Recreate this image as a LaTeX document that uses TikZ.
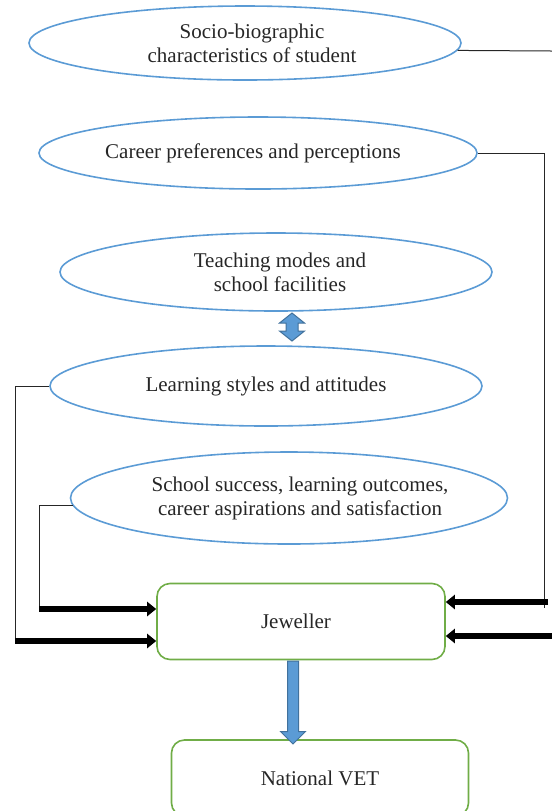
\documentclass[tikz,border=0pt]{standalone}
\usepackage{fontspec}
\setmainfont{Liberation Serif}
\usetikzlibrary{shapes.geometric,arrows.meta}
\definecolor{ovalblue}{HTML}{5B9BD5}
\definecolor{arrowedge}{HTML}{41719C}
\definecolor{boxgreen}{HTML}{70AD47}

\begin{document}
\begin{tikzpicture}[node distance=57pt]
    \tikzstyle{factor} = [ellipse, draw=ovalblue, line width=0.8pt, inner sep=0pt, align=center,
                          text=black!85, font=\fontsize{10.5}{12}\selectfont]
    \tikzstyle{unit} = [rectangle, draw=boxgreen, line width=0.8pt, rounded corners=6.5pt,
                        text=black!85, font=\fontsize{10.5}{12}\selectfont]
    \tikzstyle{link} = [draw=black!85, line width=0.5pt]
    \tikzstyle{feed} = [draw=black, line width=3pt, -{Triangle[length=4.5pt,width=7pt]}]
    \tikzstyle{blockarrow} = [fill=ovalblue, draw=arrowedge, line width=0.5pt]
  \useasboundingbox (0,0) rectangle (276pt,-405.5pt);
  \node[factor, minimum width=216pt, minimum height=37pt] (soc) at (122.5pt,-21.5pt) {\hspace*{7pt}Socio-biographic\\\hspace*{7pt}characteristics of student};
  \node[factor, below of=soc, xshift=6.5pt, yshift=2pt, minimum width=219pt, minimum height=36pt] (car) {Career preferences and perceptions\hspace*{5pt}};
  \node[factor, below of=car, xshift=9pt, yshift=-2.5pt, minimum width=216pt, minimum height=39pt] (teach) {\hspace*{4pt}Teaching modes and\\\hspace*{4pt}school facilities};
  \node[factor, below of=teach, xshift=-5pt, minimum width=216pt, minimum height=40pt] (learn) {Learning styles and attitudes};
  \node[factor, below of=learn, xshift=11.5pt, yshift=1pt, minimum width=218.5pt, minimum height=46pt] (succ) {\makebox[0pt]{\hspace*{11pt}School success, learning outcomes,}\\\makebox[0pt]{\hspace*{11pt}career aspirations and satisfaction}};
  \node[unit, below of=succ, xshift=6pt, yshift=-4.75pt, minimum width=144pt, minimum height=38pt] (jew) {Jeweller\hspace*{5pt}};
  \node[unit, below of=jew, xshift=9.5pt, yshift=-21.25pt, minimum width=148.5pt, minimum height=38pt] (vet) {National VET};
  % free ends of the connectors
  \coordinate (socend) at (276pt,-25.5pt);
  \coordinate (rdrop) at (272pt,-304pt);
  \coordinate (rin1) at (274pt,-301pt);
  \coordinate (rin2) at (276pt,-318pt);
  \coordinate (lo) at (7.5pt,-320.5pt);
  \coordinate (li) at (19.5pt,-304.5pt);
  \coordinate (tw) at (146pt,-163.5pt);
  \coordinate (dtop) at (146.5pt,-330.5pt);
  \draw[link] (soc.-2) -- (socend);
  \draw[link] (car.east) -| (rdrop);
  \draw[link] (learn.west) -| (lo);
  \draw[link] (succ.182) -| (li);
  \draw[feed] (rin1) -- (rin1 -| jew.east);
  \draw[feed] (rin2) -- (rin2 -| jew.east);
  \draw[feed] (li) -- (li -| jew.west);
  \draw[feed] (lo) -- (lo -| jew.west);
  % block arrows
  \filldraw[blockarrow] (tw) ++(0,7pt) -- ++(6.25pt,-5pt) -- ++(-3.25pt,0) -- ++(0,-4pt) -- ++(3.25pt,0)
     -- ++(-6.25pt,-5pt) -- ++(-6.25pt,5pt) -- ++(3.25pt,0) -- ++(0,4pt) -- ++(-3.25pt,0) -- cycle;
  \filldraw[blockarrow] (dtop) ++(-2.75pt,0) -- ++(0,-35.25pt) -- ++(-3.5pt,0) -- ++(6.25pt,-6.25pt)
     -- ++(6.25pt,6.25pt) -- ++(-3.5pt,0) -- ++(0,35.25pt) -- cycle;
  \end{tikzpicture}
\end{document}
